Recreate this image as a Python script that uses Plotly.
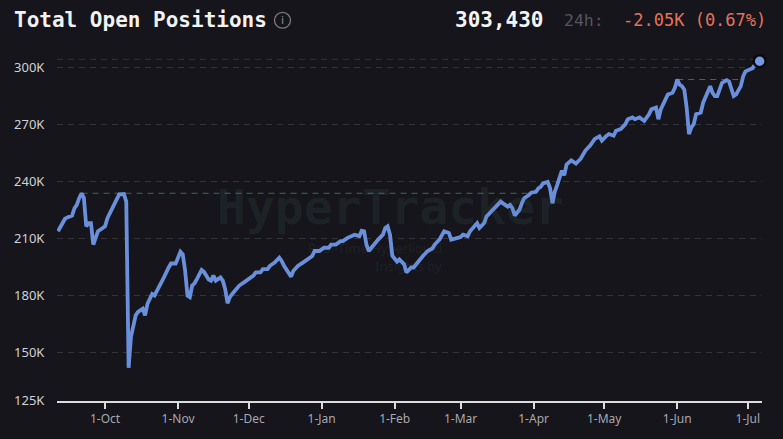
import plotly.graph_objects as go

# ---------------- data ----------------
dates = [
    "2024-09-11", "2024-09-13", "2024-09-14", "2024-09-15", "2024-09-17", "2024-09-18",
    "2024-09-19", "2024-09-20", "2024-09-21", "2024-09-22", "2024-09-23", "2024-09-24",
    "2024-09-25", "2024-09-26", "2024-09-27", "2024-09-28", "2024-09-30", "2024-10-01",
    "2024-10-02", "2024-10-04", "2024-10-06", "2024-10-07", "2024-10-09", "2024-10-10",
    "2024-10-11", "2024-10-12", "2024-10-14", "2024-10-15", "2024-10-17", "2024-10-18",
    "2024-10-19", "2024-10-21", "2024-10-22", "2024-10-24", "2024-10-26", "2024-10-28",
    "2024-10-29", "2024-10-31", "2024-11-01", "2024-11-02", "2024-11-03", "2024-11-04",
    "2024-11-05", "2024-11-06", "2024-11-07", "2024-11-08", "2024-11-09", "2024-11-11",
    "2024-11-12", "2024-11-13", "2024-11-14", "2024-11-15", "2024-11-16", "2024-11-17",
    "2024-11-19", "2024-11-20", "2024-11-21", "2024-11-22", "2024-11-23", "2024-11-24",
    "2024-11-27", "2024-11-29", "2024-12-01", "2024-12-03", "2024-12-04", "2024-12-06",
    "2024-12-07", "2024-12-09", "2024-12-10", "2024-12-12", "2024-12-14", "2024-12-15",
    "2024-12-16", "2024-12-18", "2024-12-19", "2024-12-20", "2024-12-22", "2024-12-24",
    "2024-12-26", "2024-12-28", "2024-12-29", "2024-12-31", "2025-01-02", "2025-01-04",
    "2025-01-05", "2025-01-07", "2025-01-09", "2025-01-10", "2025-01-12", "2025-01-14",
    "2025-01-15", "2025-01-17", "2025-01-18", "2025-01-19", "2025-01-20", "2025-01-21",
    "2025-01-22", "2025-01-24", "2025-01-25", "2025-01-27", "2025-01-28", "2025-01-29",
    "2025-01-30", "2025-01-31", "2025-02-02", "2025-02-03", "2025-02-05", "2025-02-06",
    "2025-02-08", "2025-02-09", "2025-02-10", "2025-02-12", "2025-02-13", "2025-02-15",
    "2025-02-17", "2025-02-18", "2025-02-20", "2025-02-22", "2025-02-24", "2025-02-25",
    "2025-02-27", "2025-03-01", "2025-03-02", "2025-03-04", "2025-03-05", "2025-03-06",
    "2025-03-08", "2025-03-09", "2025-03-11", "2025-03-12", "2025-03-14", "2025-03-16",
    "2025-03-18", "2025-03-19", "2025-03-21", "2025-03-22", "2025-03-23", "2025-03-24",
    "2025-03-26", "2025-03-27", "2025-03-28", "2025-03-30", "2025-03-31", "2025-04-02",
    "2025-04-03", "2025-04-04", "2025-04-05", "2025-04-07", "2025-04-08", "2025-04-09",
    "2025-04-10", "2025-04-11", "2025-04-12", "2025-04-13", "2025-04-14", "2025-04-15",
    "2025-04-17", "2025-04-19", "2025-04-21", "2025-04-23", "2025-04-25", "2025-04-27",
    "2025-04-29", "2025-04-30", "2025-05-02", "2025-05-03", "2025-05-05", "2025-05-06",
    "2025-05-08", "2025-05-10", "2025-05-11", "2025-05-13", "2025-05-14", "2025-05-16",
    "2025-05-17", "2025-05-18", "2025-05-20", "2025-05-21", "2025-05-23", "2025-05-24",
    "2025-05-25", "2025-05-27", "2025-05-28", "2025-05-30", "2025-05-31", "2025-06-01",
    "2025-06-02", "2025-06-03", "2025-06-04", "2025-06-05", "2025-06-06", "2025-06-07",
    "2025-06-08", "2025-06-09", "2025-06-11", "2025-06-12", "2025-06-14", "2025-06-15",
    "2025-06-16", "2025-06-17", "2025-06-18", "2025-06-20", "2025-06-22", "2025-06-23",
    "2025-06-25", "2025-06-26", "2025-06-28", "2025-06-29", "2025-06-30", "2025-07-02",
    "2025-07-03", "2025-07-04", "2025-07-06",
]

open_positions_k = [
    213.9, 218.2, 220.5, 221.2, 222.2, 226.0,
    227.8, 231.3, 233.9, 231.5, 216.5, 218.2,
    218.2, 206.9, 210.4, 213.9, 215.6, 216.5,
    220.8, 226.0, 230.4, 233.3, 233.5, 229.5,
    142.0, 158.3, 169.6, 171.4, 173.1, 169.6,
    175.7, 180.9, 180.1, 184.4, 189.6, 194.8,
    196.9, 196.9, 200.0, 203.1, 201.7, 193.1,
    180.0, 179.2, 185.3, 186.5, 188.7, 193.5,
    192.5, 190.5, 188.5, 187.9, 190.5, 187.9,
    189.6, 187.9, 183.5, 176.0, 179.2, 180.9,
    185.3, 187.0, 188.7, 190.5, 192.2, 192.2,
    193.9, 193.9, 195.7, 197.4, 200.0, 198.3,
    195.7, 192.2, 190.0, 193.1, 195.7, 197.4,
    199.1, 200.9, 203.5, 203.5, 205.2, 205.2,
    206.9, 206.9, 208.7, 208.7, 210.4, 211.3,
    212.1, 211.3, 214.2, 213.9, 206.9, 203.5,
    205.2, 207.8, 209.5, 212.1, 215.6, 216.5,
    212.1, 201.0, 197.9, 199.1, 196.5, 192.2,
    194.8, 194.8, 196.5, 200.0, 200.9, 203.5,
    204.8, 206.9, 209.5, 213.9, 213.0, 209.5,
    210.4, 210.8, 212.1, 211.3, 213.9, 215.6,
    218.2, 215.6, 218.2, 221.7, 224.3, 226.9,
    229.5, 228.6, 226.9, 227.8, 226.0, 222.2,
    225.2, 228.6, 231.3, 233.0, 234.2, 234.7,
    236.5, 237.3, 239.1, 239.9, 236.5, 228.6,
    234.7, 238.2, 241.7, 245.8, 243.4, 249.0,
    251.2, 249.5, 252.1, 256.4, 259.0, 262.5,
    263.9, 261.6, 264.2, 265.1, 264.2, 266.8,
    267.7, 270.3, 272.9, 273.8, 272.9, 273.8,
    272.9, 272.0, 275.5, 278.1, 279.0, 272.9,
    278.1, 283.3, 285.9, 286.8, 289.4, 293.8,
    291.1, 290.3, 288.5, 279.0, 265.1, 268.6,
    270.3, 275.5, 276.4, 281.6, 287.6, 290.3,
    286.8, 285.1, 285.1, 292.0, 293.5, 292.8,
    285.1, 285.9, 290.3, 295.5, 298.1, 299.0,
    299.8, 301.6, 303.43,
]

y_tick_vals = [125, 150, 180, 210, 240, 270, 300]
y_tick_text = ["125K", "150K", "180K", "210K", "240K", "270K", "300K"]
previous_high_dates = ["2024-09-21", "2025-06-01"]   # peaks that get a "previous high" guide
current_value_text = "303,430"
change_label = "24h:"
change_text = "-2.05K (0.67%)"
title_text = "Total Open Positions"

# ---------------- styling ----------------
BG = "#15151b"
LINE = "#6a8fdb"
GRID = "#33343a"
GREEN = "#3d6a5a"
L, R, T, B = 57, 21, 48, 34
W, H = 783, 439
PW, PH = W - L - R, H - T - B


def px_x(px):
    return (px - L) / PW


def px_y(py):
    return (H - B - py) / PH


fig = go.Figure()

fig.add_trace(go.Scatter(
    x=dates, y=open_positions_k, mode="lines",
    line=dict(color=LINE, width=3.8), hoverinfo="skip",
))
fig.add_trace(go.Scatter(
    x=[dates[-1]], y=[open_positions_k[-1]], mode="markers",
    marker=dict(size=12, color="#7399e2", line=dict(color="#0a0a0d", width=2.5)),
    cliponaxis=False, hoverinfo="skip",
))

shapes = []
# previous-high guides: from the peak to the first later day above it
for d0 in previous_high_dates:
    i0 = dates.index(d0)
    level = open_positions_k[i0]
    i1 = next((j for j in range(i0 + 1, len(dates)) if open_positions_k[j] > level), len(dates) - 1)
    shapes.append(dict(type="line", xref="x", yref="y", x0=dates[i0], x1=dates[i1],
                       y0=level, y1=level, layer="below",
                       line=dict(color=GREEN, width=1.2, dash="6px,5px")))
# current value guide
shapes.append(dict(type="line", xref="paper", yref="y", x0=0, x1=1,
                   y0=open_positions_k[-1] + 1, y1=open_positions_k[-1] + 1, layer="below",
                   line=dict(color=GRID, width=1, dash="6px,5px")))
# info icon circle
shapes.append(dict(type="circle", xref="paper", yref="paper",
                   x0=px_x(274.5), x1=px_x(290.5), y0=px_y(28), y1=px_y(12),
                   line=dict(color="#7a7a80", width=1.3)))

annotations = [
    # watermark
    dict(text="<b>HyperTracker</b>", x=px_x(390), y=px_y(209), xref="paper", yref="paper",
         showarrow=False, font=dict(family="DejaVu Sans Mono", size=48, color="rgba(90,130,125,0.12)")),
    dict(text="Real-Time Hyperliquid", x=px_x(444), y=px_y(250), xref="paper", yref="paper",
         xanchor="right", showarrow=False,
         font=dict(family="Noto Sans", size=13, color="rgba(110,130,130,0.13)")),
    dict(text="Insights by", x=px_x(444), y=px_y(268), xref="paper", yref="paper",
         xanchor="right", showarrow=False,
         font=dict(family="Noto Sans", size=13, color="rgba(110,130,130,0.13)")),
    # header
    dict(text="<b>" + title_text + "</b>", x=px_x(12), y=px_y(20), xref="paper", yref="paper",
         xanchor="left", yanchor="middle", showarrow=False,
         font=dict(family="DejaVu Sans Mono", size=21, color="#f2f2f2")),
    dict(text="i", x=px_x(282.5), y=px_y(20), xref="paper", yref="paper",
         xanchor="center", yanchor="middle", showarrow=False,
         font=dict(family="DejaVu Sans", size=11, color="#8a8a90")),
    dict(text="<b>" + current_value_text + "</b>", x=px_x(546), y=px_y(20), xref="paper", yref="paper",
         xanchor="right", yanchor="middle", showarrow=False,
         font=dict(family="DejaVu Sans Mono", size=21, color="#f5f5f5")),
    dict(text=change_label, x=px_x(562), y=px_y(20), xref="paper", yref="paper",
         xanchor="left", yanchor="middle", showarrow=False,
         font=dict(family="DejaVu Sans Mono", size=16.5, color="#56565c")),
    dict(text=change_text, x=px_x(768), y=px_y(20), xref="paper", yref="paper",
         xanchor="right", yanchor="middle", showarrow=False,
         font=dict(family="DejaVu Sans Mono", size=17, color="#e4725b")),
]

fig.update_layout(
    width=W, height=H,
    margin=dict(l=L, r=R, t=T, b=B, pad=0),
    paper_bgcolor=BG, plot_bgcolor=BG,
    showlegend=False, hovermode=False,
    shapes=shapes, annotations=annotations,
    xaxis=dict(
        type="date",
        range=["2024-09-10 14:00", "2025-07-07 00:00"],
        tick0="2024-10-01", dtick="M1", tickformat="%-d-%b",
        ticks="outside", ticklen=6, tickwidth=1.5, tickcolor="#dcdcdc",
        showline=True, linecolor="#dcdcdc", linewidth=1.5,
        showgrid=False, zeroline=False,
        tickfont=dict(family="Noto Sans", size=12, color="#a8a8ae"),
    ),
    yaxis=dict(
        range=[124.5, 310.4],
        tickvals=y_tick_vals, ticktext=y_tick_text,
        showgrid=True, gridcolor=GRID, gridwidth=1, griddash="6px,5px",
        zeroline=False, showline=False,
        ticks="outside", ticklen=9, tickcolor="rgba(0,0,0,0)",
        tickfont=dict(family="Noto Sans", size=13, color="#d2d2d6"),
    ),
)

fig.write_html("out.html")
